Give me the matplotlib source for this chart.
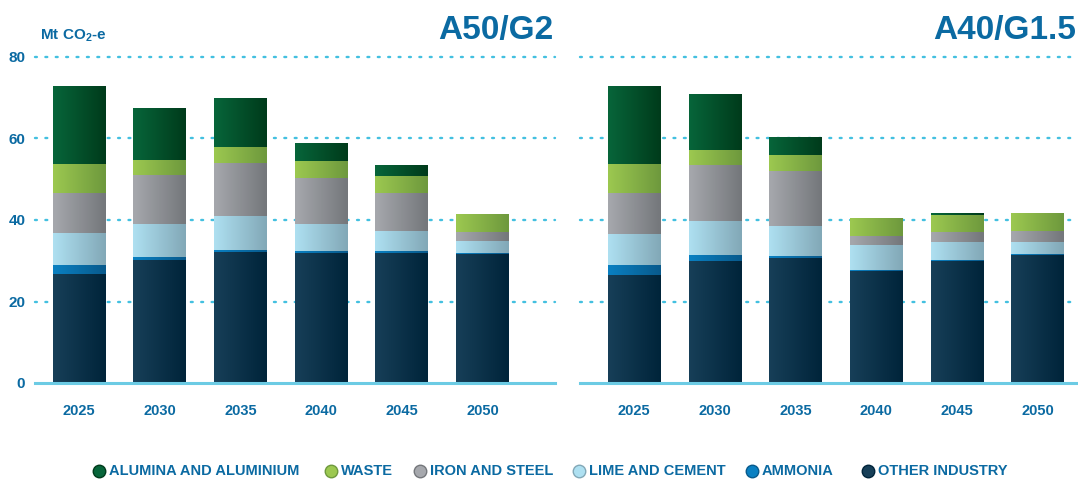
import numpy as np
import matplotlib
matplotlib.use("Agg")
import matplotlib.pyplot as plt
from matplotlib.colors import LinearSegmentedColormap
from matplotlib.lines import Line2D

plt.rcParams['font.family'] = ['Liberation Sans', 'DejaVu Sans']
plt.rcParams['font.weight'] = 'bold'
plt.rcParams['mathtext.fontset'] = 'custom'
plt.rcParams['mathtext.rm'] = 'Liberation Sans:bold'
plt.rcParams['mathtext.bf'] = 'Liberation Sans:bold'

# data (Mt CO2-e)
years = ['2025', '2030', '2035', '2040', '2045', '2050']
sectors = ['OTHER INDUSTRY', 'AMMONIA', 'LIME AND CEMENT', 'IRON AND STEEL', 'WASTE', 'ALUMINA AND ALUMINIUM']

a50_other = [26.7, 30.2, 32.1, 31.9, 31.9, 31.6]
a50_ammonia = [2.3, 0.7, 0.5, 0.5, 0.5, 0.3]
a50_lime = [7.8, 8.1, 8.4, 6.6, 4.9, 2.9]
a50_iron = [9.8, 12.1, 13.0, 11.3, 9.3, 2.3]
a50_waste = [7.1, 3.7, 3.9, 4.2, 4.2, 4.4]
a50_alumina = [18.9, 12.7, 11.8, 4.2, 2.5, 0.0]

a40_other = [26.5, 29.9, 30.7, 27.5, 29.9, 31.4]
a40_ammonia = [2.5, 1.5, 0.5, 0.2, 0.3, 0.3]
a40_lime = [7.6, 8.4, 7.3, 6.1, 4.4, 2.9]
a40_iron = [10.0, 13.7, 13.5, 2.2, 2.5, 2.7]
a40_waste = [7.1, 3.7, 4.0, 4.2, 4.1, 4.4]
a40_alumina = [18.9, 13.7, 4.4, 0.0, 0.3, 0.0]

# gradient colours (left -> right) per sector
grad = {
    'OTHER INDUSTRY': ('#173f58', '#00243a'),
    'AMMONIA': ('#0a80c2', '#085a8c'),
    'LIME AND CEMENT': ('#aee0f1', '#82a8b7'),
    'IRON AND STEEL': ('#a6a8ad', '#74777b'),
    'WASTE': ('#9cc850', '#6e993d'),
    'ALUMINA AND ALUMINIUM': ('#07653a', '#003b1b'),
}
blue = '#0b6aa2'
grid_col = '#43c0e0'

fig = plt.figure(figsize=(10.78, 4.8), dpi=100)
bot = (480 - 383) / 480
h = (383 - 57) / 480
ax1 = fig.add_axes([35 / 1078, bot, 520 / 1078, h])
ax2 = fig.add_axes([580 / 1078, bot, 498 / 1078, h])


def draw(ax, series, xlim, show_y):
    x = np.arange(len(years))
    bottom = np.zeros(len(years))
    grad_img = np.linspace(0, 1, 64).reshape(1, -1)
    for name, vals in zip(sectors, series):
        vals = np.array(vals)
        bars = ax.bar(x, vals, 0.65, bottom=bottom, color='none', linewidth=0, zorder=2)
        cmap = LinearSegmentedColormap.from_list(name, grad[name])
        for r in bars:
            if r.get_height() <= 0:
                continue
            x0, y0 = r.get_x(), r.get_y()
            ax.imshow(grad_img, cmap=cmap, aspect='auto', zorder=2,
                      extent=[x0, x0 + r.get_width(), y0, y0 + r.get_height()])
        bottom += vals
    ax.set_xlim(*xlim)
    ax.set_ylim(0, 80)
    for v in [20, 40, 60, 80]:
        ax.axhline(v, color=grid_col, lw=1.7, linestyle=(0, (0.8, 3.6)), zorder=1,
                   dash_capstyle='round', clip_on=False)
    ax.axhline(0, color='#6ccbe4', lw=2.2, zorder=3, clip_on=False)
    for s in ax.spines.values():
        s.set_visible(False)
    ax.set_xticks(x)
    ax.set_xticklabels(years, fontsize=10.5, fontweight='bold', color=blue)
    ax.tick_params(axis='x', length=0, pad=15)
    ax.set_yticks([0, 20, 40, 60, 80])
    if show_y:
        ax.set_yticklabels(['0', '20', '40', '60', '80'], fontsize=11,
                           fontweight='bold', color=blue)
        ax.tick_params(axis='y', length=0, pad=7)
    else:
        ax.tick_params(axis='y', length=0, labelleft=False)
    ax.set_facecolor('none')


draw(ax1, [a50_other, a50_ammonia, a50_lime, a50_iron, a50_waste, a50_alumina],
     (-0.545, 5.9), True)
draw(ax2, [a40_other, a40_ammonia, a40_lime, a40_iron, a40_waste, a40_alumina],
     (-0.67, 5.5), False)

fig.text(553 / 1078, 1 - 31 / 480, 'A50/G2', ha='right', va='center',
         fontsize=24, fontweight='bold', color=blue)
fig.text(1076 / 1078, 1 - 31 / 480, 'A40/G1.5', ha='right', va='center',
         fontsize=24, fontweight='bold', color=blue)
fig.text(40 / 1078, 1 - 36 / 480, r'Mt CO$_\mathbf{2}$-e', ha='left', va='center',
         fontsize=11, fontweight='bold', color=blue)

# legend, laid out like the reference row
order = ['ALUMINA AND ALUMINIUM', 'WASTE', 'IRON AND STEEL', 'LIME AND CEMENT',
         'AMMONIA', 'OTHER INDUSTRY']
dot_x = [99, 331, 420, 579, 752, 868]
ly = 1 - 471 / 480
for name, px in zip(order, dot_x):
    fig.add_artist(Line2D([px / 1078], [ly], marker='o', linestyle='none', markersize=9,
                          markerfacecolor=grad[name][0], markeredgecolor=grad[name][1],
                          transform=fig.transFigure))
    fig.text((px + 10) / 1078, ly, name, ha='left', va='center', fontsize=10.5,
             fontweight='bold', color=blue)

fig.savefig('out.png', dpi=100)
